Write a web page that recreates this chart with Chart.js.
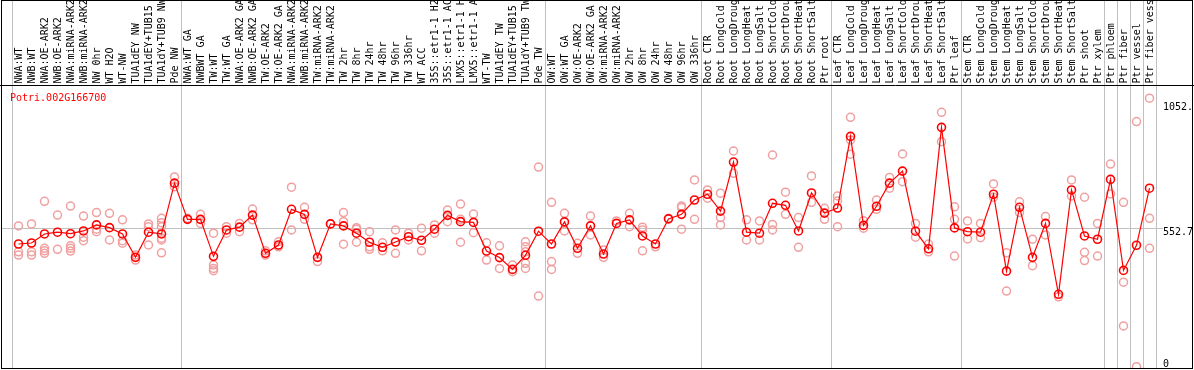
<!DOCTYPE html>
<html><head><meta charset="utf-8">
<script src="https://cdn.jsdelivr.net/npm/chart.js@4/dist/chart.umd.min.js"></script>
<style>html,body{margin:0;padding:0;background:#fff;overflow:hidden}canvas{display:block}</style>
</head><body>
<canvas id="c" width="1194" height="370"></canvas>
<script>
const title = "Potri.002G166700";
const categories = [
 "NWA:WT","NWB:WT","NWA:OE-ARK2","NWB:OE-ARK2","NWA:miRNA-ARK2","NWB:miRNA-ARK2","NW 0hr","WT H2O","WT-NW","TUA1dEY NW","TUA1dEY+TUB15 NW","TUA1dY+TUB9 NW","Pde NW",
 "NWA:WT GA","NWBWT GA","TW:WT","TW:WT GA","NWA:OE-ARK2 GA","NWB:OE-ARK2 GA","TW:OE-ARK2","TW:OE-ARK2 GA","NWA:miRNA-ARK2","NWB:miRNA-ARK2","TW:miRNA-ARK2","TW:miRNA-ARK2",
 "TW 2hr","TW 8hr","TW 24hr","TW 48hr","TW 96hr","TW 336hr","WT ACC","35S::etr1-1 H2O","35S::etr1-1 ACC","LMX5::etr1-1 H2O","LMX5::etr1-1 ACC","WT-TW","TUA1dEY TW","TUA1dEY+TUB15 TW","TUA1dY+TUB9 TW","Pde TW",
 "OW:WT","OW:WT GA","OW:OE-ARK2","OW:OE-ARK2 GA","OW:miRNA-ARK2","OW:miRNA-ARK2","OW 2hr","OW 8hr","OW 24hr","OW 48hr","OW 96hr","OW 336hr",
 "Root CTR","Root LongCold","Root LongDrought","Root LongHeat","Root LongSalt","Root ShortCold","Root ShortDrought","Root ShortHeat","Root ShortSalt","Ptr root",
 "Leaf CTR","Leaf LongCold","Leaf LongDrought","Leaf LongHeat","Leaf LongSalt","Leaf ShortCold","Leaf ShortDrought","Leaf ShortHeat","Leaf ShortSalt","Ptr leaf",
 "Stem CTR","Stem LongCold","Stem LongDrought","Stem LongHeat","Stem LongSalt","Stem ShortCold","Stem ShortDrought","Stem ShortHeat","Stem ShortSalt","Ptr shoot",
 "Ptr xylem","Ptr phloem","Ptr fiber","Ptr vessel","Ptr fiber vessel"
];
const means = [488,492,528,535,529,540,564,553,528,435,535,528,730,586,586,439,544,555,603,451,484,626,606,435,568,560,531,495,475,496,517,503,547,602,577,574,460,434,387,443,539,488,576,471,560,448,570,584,520,488,588,606,663,686,619,814,535,531,650,642,540,691,611,631,916,562,638,730,778,539,469,952,552,537,535,686,380,634,435,570,288,703,520,507,745,383,483,710];
const replicates = [
 [560,457,444],[568,457,444],[658,471,461,451],[603,467],[639,481,471,460],[599,515,501],[613,547,537],[610,504],[584,501,491],[444,424],
 [568,557,484],[590,573,557,511,504,453],[755,716],[590],[606,570],[531,405,391,382],[557,531],[570,537],[627,584],[461,444],
 [497,477],[714,544],[634,586],[418],[568],[613,577,487],[553,547,495],[537,477,467],[493,461],[544,451],
 [531,504],[551,461],[564,531],[623,577],[647,586,495],[607,533],[493,424],[481,391],[405,378],[497,477,457,411,391],
 [794,281],[654,418,387],[610,540],[491,451],[599,524],[464,435],[580],[610,557],[555,544,461],[477],
 [590],[639,633,547],[743,586],[703,670],[690,593,564],[858,769],[584,504],[580,504],[842,566,544],[694,606],
 [593,475],[759,654],[630,586],[679,659,557],[992,902,845],[581,551],[663,626],[753,710],[846,736],[570,515],
 [488,457],[1012,895],[636,586,440],[580,508],[570,513],[727,674],[453,301],[656,613],[507,402],[597,524],
 [278],[743,679],[674,455,422],[570,440],[806,687],[654,336,162],[975,0],[1068,590,471]
];
const yTickValues = [0, 552.7, 1052.6];
const yTickLabels = ["0", "552.7", "1052.6"];
const groupBoundaries = [-0.5, 12.5, 40.5, 52.5, 62.5, 72.5, 83.5, 84.5, 85.5, 86.5, 87.5];

const FONT = '10px "DejaVu Sans Mono", "Liberation Mono", monospace';

const deco = {
  id: 'deco',
  beforeDraw(chart) {
    const ctx = chart.ctx;
    ctx.save(); ctx.fillStyle = '#fff'; ctx.fillRect(0, 0, chart.width, chart.height); ctx.restore();
  },
  beforeDatasetsDraw(chart) {
    const ctx = chart.ctx, ys = chart.scales.y;
    const y = Math.round(ys.getPixelForValue(yTickValues[1])) + 0.5;
    ctx.save();
    ctx.strokeStyle = '#c0c0c0'; ctx.lineWidth = 1;
    ctx.beginPath(); ctx.moveTo(2, y); ctx.lineTo(1163, y); ctx.stroke();
    ctx.restore();
  },
  afterDraw(chart) {
    const ctx = chart.ctx, xs = chart.scales.x, ys = chart.scales.y;
    ctx.save();
    // white label band background behind labels is not needed; draw labels
    ctx.font = FONT; ctx.fillStyle = '#000';
    categories.forEach((c, i) => {
      const x = xs.getPixelForValue(i);
      ctx.save();
      ctx.translate(x + 0.5, 83.5);
      ctx.rotate(-Math.PI / 2);
      ctx.textAlign = 'left'; ctx.textBaseline = 'middle';
      ctx.fillText(c, 0, 0);
      ctx.restore();
    });
    // separator line under labels
    ctx.strokeStyle = '#000'; ctx.lineWidth = 1;
    ctx.beginPath(); ctx.moveTo(0, 85.5); ctx.lineTo(1194, 85.5); ctx.stroke();
    // frame
    ctx.strokeRect(1.5, 0.5, 1191, 368);
    // title
    ctx.fillStyle = '#ff0000'; ctx.textAlign = 'left'; ctx.textBaseline = 'alphabetic';
    ctx.fillText(title, 10, 101);
    // y labels
    ctx.fillStyle = '#000';
    ctx.save();
    ctx.beginPath(); ctx.rect(1160, 86, 32, 282); ctx.clip();
    yTickValues.forEach((v, k) => {
      const y = ys.getPixelForValue(v);
      if (v === 0) { ctx.textBaseline = 'alphabetic'; ctx.fillText(yTickLabels[k], 1163, y); }
      else { ctx.textBaseline = 'top'; ctx.fillText(yTickLabels[k], 1163, y); }
    });
    ctx.restore();
    ctx.restore();
  }
};

new Chart(document.getElementById('c'), {
  type: 'line',
  data: {
    datasets: [
      {
        label: 'mean',
        data: means.map((v, i) => ({ x: i, y: v })),
        borderColor: '#ff0000', borderWidth: 1.2, tension: 0,
        pointRadius: 4, pointBorderWidth: 1.6, pointBorderColor: '#ff0000',
        pointBackgroundColor: 'rgba(0,0,0,0)', order: 0
      },
      {
        label: 'replicates',
        data: replicates.flatMap((arr, i) => arr.map(v => ({ x: i, y: v }))),
        showLine: false,
        pointRadius: 4, pointBorderWidth: 1.5, pointBorderColor: '#f0a0a0',
        pointBackgroundColor: 'rgba(0,0,0,0)', order: 1
      }
    ]
  },
  options: {
    responsive: false, animation: false, devicePixelRatio: 1,
    layout: { autoPadding: false, padding: { left: 12, right: 38, top: 0, bottom: 2 } },
    plugins: { legend: { display: false }, tooltip: { enabled: false } },
    scales: {
      x: {
        type: 'linear', min: -0.5, max: 87.5, position: 'bottom',
        afterBuildTicks: s => { s.ticks = groupBoundaries.map(v => ({ value: v })); },
        ticks: { display: false },
        grid: { color: '#c0c0c0', lineWidth: 1, drawTicks: false },
        border: { display: false }
      },
      y: { type: 'linear', display: false, min: -5.2, max: 1458.6 }
    }
  },
  plugins: [deco]
});
</script>
</body></html>
